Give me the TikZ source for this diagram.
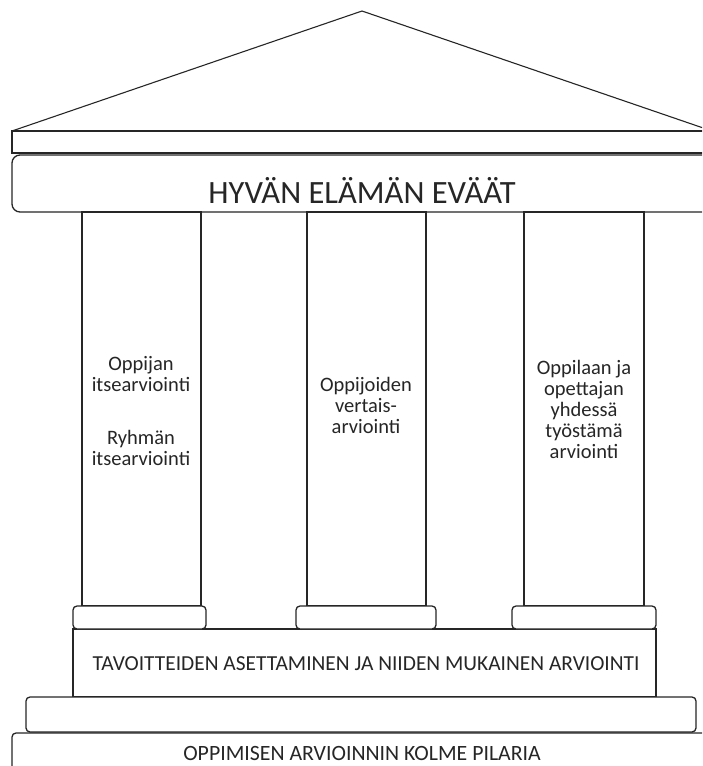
\documentclass[tikz,border=0pt]{standalone}
\usepackage{fontspec}
\setmainfont{Carlito}
\begin{document}
\begin{tikzpicture}[x=1pt,y=-1pt,
  outline/.style={draw=black!85,line width=1.3pt,fill=white},
  coltext/.style={align=center,font=\fontsize{20.5}{21}\selectfont,text=black!85}]
\useasboundingbox (0,0) rectangle (702,766);
\clip (0,0) rectangle (702,766);
% roof
\draw[outline,line width=1.1pt] (12,131) coordinate (rl) -- (362,11) coordinate (apex) -- (712,131) coordinate (rr);
% cornice
\draw[outline] (12,131) rectangle (712,153);
% entablature
\draw[outline,rounded corners=8pt] (12,155) rectangle (712,212);
\node[font=\fontsize{32.5}{34}\selectfont,text=black!85] (title) at (362,190) {HYVÄN ELÄMÄN EVÄÄT};
% columns
\draw[outline] (82,212) rectangle (201,606);
\draw[outline] (307,212) rectangle (426,606);
\draw[outline] (524,212) rectangle (644,606);
\node[coltext] (t1) at (141,411) {Oppijan\\itsearviointi\\[32pt]Ryhmän\\itsearviointi};
\node[coltext] (t2) at (366,405) {Oppijoiden\\vertais-\\arviointi};
\node[coltext] (t3) at (584,409) {Oppilaan ja\\opettajan\\yhdessä\\työstämä\\arviointi};
% stylobate
\draw[outline] (73,629) rectangle (656,697);
\node[font=\fontsize{21.4}{23}\selectfont,text=black!85] (goal) at (366,664) {TAVOITTEIDEN ASETTAMINEN JA NIIDEN MUKAINEN ARVIOINTI};
% column bases
\draw[outline,rounded corners=4pt] (73,606) rectangle (206,629);
\draw[outline,rounded corners=4pt] (296,606) rectangle (436,629);
\draw[outline,rounded corners=4pt] (512,606) rectangle (656,629);
% step
\draw[outline,rounded corners=4pt] (26,697) rectangle (696,732);
% bottom
\draw[outline,rounded corners=4pt] (12,733) rectangle (712,790);
\node[font=\fontsize{21.8}{23}\selectfont,text=black!85] (bottom) at (362,753) {OPPIMISEN ARVIOINNIN KOLME PILARIA};
\end{tikzpicture}
\end{document}
